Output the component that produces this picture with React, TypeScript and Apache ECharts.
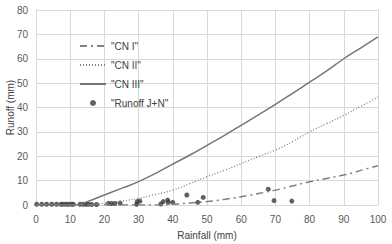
import React, { useEffect, useRef } from "react";
import * as echarts from "echarts";

const rainfall = [0, 5, 10, 12, 15, 20, 25, 30, 35, 40, 45, 50, 55, 60, 65, 70, 75, 80, 85, 90, 95, 100];
const cnI = [0, 0, 0, 0, 0, 0, 0, 0, 0, 0.3, 0.8, 1.4, 2.3, 3.4, 4.7, 6.1, 7.8, 9.5, 10.9, 12.3, 14.2, 16.1];
const cnII = [0, 0, 0, 0, 0, 0.7, 1.6, 2.7, 4.3, 6.1, 8.8, 11.6, 14.2, 17, 19.8, 22.5, 26, 30, 33.4, 36.8, 40.5, 44.3];
const cnIII = [0, 0, 0, 0.1, 1.4, 4.1, 6.8, 9.6, 13, 16.8, 20.5, 24.5, 28.5, 32.7, 37, 41.3, 45.8, 50.4, 55, 60, 64.5, 69];

const obsRain = [0.2, 1.7, 3.1, 4.6, 6.0, 7.3, 8.0, 8.8, 9.5, 10.4, 10.9, 12.9, 13.8, 14.6, 15.3, 16.3, 17.7,
  21.2, 22.1, 23.1, 24.6, 29.4, 29.6, 30.4, 36.5, 37.2, 38.5, 38.7, 40.0, 44.1, 47.3, 48.9, 67.9, 69.6, 74.8];
const obsRunoff = [0.3, 0.3, 0.3, 0.3, 0.3, 0.3, 0.3, 0.3, 0.3, 0.3, 0.3, 0.3, 0.3, 0.3, 0.3, 0.2, 0.2,
  0.7, 0.6, 0.6, 0.8, 0.3, 1.4, 1.6, 0.4, 1.4, 2.0, 1.1, 1.1, 4.1, 1.1, 3.1, 6.5, 1.8, 1.6];

const xTicks = { min: 0, max: 100, interval: 10 };
const yTicks = { min: 0, max: 80, interval: 10 };

const pairs = (xs: number[], ys: number[]) => xs.map((x, i) => [x, ys[i]]);

export default function App() {
  const ref = useRef<HTMLDivElement>(null);
  useEffect(() => {
    if (!ref.current) return;
    const chart = echarts.init(ref.current, undefined, { renderer: "svg" });
    const textColor = "#595959";
    const font = "Liberation Sans, Arial, sans-serif";
    const hideSym = { opacity: 0 };
    chart.setOption({
      animation: false,
      grid: { left: 36, right: 14, top: 10, bottom: 39, containLabel: false, outerBoundsMode: "none" },
      textStyle: { fontFamily: font },
      legend: {
        orient: "vertical",
        left: 74,
        top: 36,
        itemWidth: 26,
        itemHeight: 6,
        itemGap: 9,
        textStyle: { color: "#404040", fontSize: 10, fontFamily: font },
        data: [
          { name: '"CN I"', itemStyle: hideSym },
          { name: '"CN II"', itemStyle: hideSym },
          { name: '"CN III"', itemStyle: hideSym },
          { name: '"Runoff J+N"' },
        ],
      },
      xAxis: {
        type: "value",
        ...xTicks,
        name: "Rainfall (mm)",
        nameLocation: "middle",
        nameGap: 25,
        nameMoveOverlap: false,
        nameTextStyle: { color: "#404040", fontSize: 10, fontFamily: font },
        axisLine: { show: true, lineStyle: { color: "#d9d9d9", width: 1 } },
        axisTick: { show: false },
        axisLabel: { color: textColor, fontSize: 10, margin: 9, fontFamily: font },
        splitLine: { show: true, lineStyle: { color: "#d9d9d9", width: 1 } },
      },
      yAxis: {
        type: "value",
        ...yTicks,
        name: "Runoff (mm)",
        nameLocation: "middle",
        nameGap: 21,
        nameMoveOverlap: false,
        nameTextStyle: { color: "#404040", fontSize: 10, fontFamily: font },
        axisLine: { show: false },
        axisTick: { show: false },
        axisLabel: { color: textColor, fontSize: 10, margin: 8, fontFamily: font },
        splitLine: { show: true, lineStyle: { color: "#d9d9d9", width: 1 } },
      },
      series: [
        {
          name: '"CN I"',
          type: "line",
          data: pairs(rainfall, cnI),
          symbol: "none",
          smooth: true,
          lineStyle: { color: "#7f7f7f", width: 1.5, type: [7, 4, 2, 4] },
          itemStyle: { color: "#7f7f7f" },
        },
        {
          name: '"CN II"',
          type: "line",
          data: pairs(rainfall, cnII),
          symbol: "none",
          smooth: true,
          lineStyle: { color: "#7f7f7f", width: 1.3, type: [1, 2] },
          itemStyle: { color: "#7f7f7f" },
        },
        {
          name: '"CN III"',
          type: "line",
          data: pairs(rainfall, cnIII),
          symbol: "none",
          smooth: true,
          lineStyle: { color: "#767676", width: 1.5, type: "solid" },
          itemStyle: { color: "#767676" },
        },
        {
          name: '"Runoff J+N"',
          type: "scatter",
          data: pairs(obsRain, obsRunoff),
          symbol: "circle",
          symbolSize: 5,
          itemStyle: { color: "#3a3a3a" },
        },
      ],
    });
    return () => chart.dispose();
  }, []);
  return <div ref={ref} style={{ width: 392, height: 244, position: "absolute", left: 0, top: 0 }} />;
}
